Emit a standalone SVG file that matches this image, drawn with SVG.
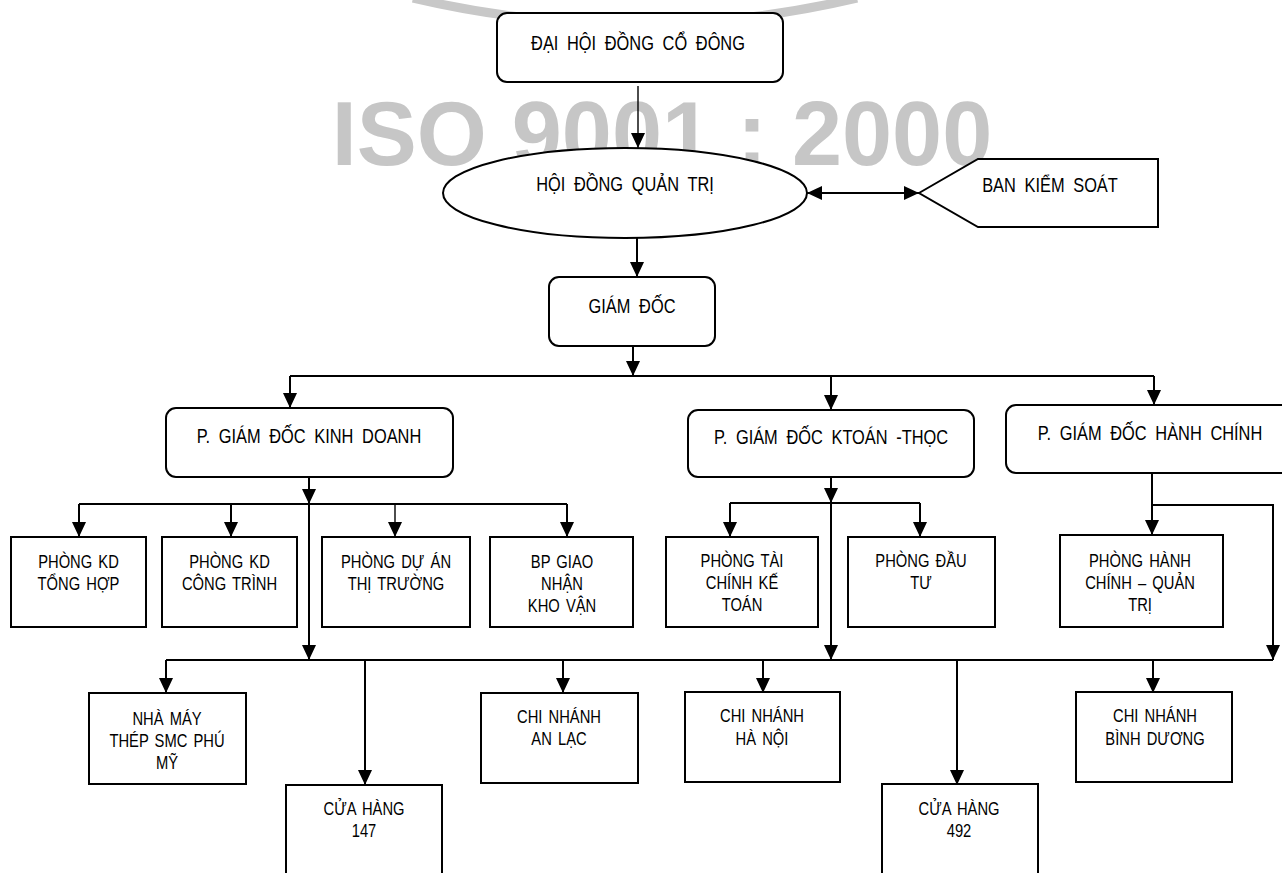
<svg xmlns="http://www.w3.org/2000/svg" width="1282" height="873" viewBox="0 0 1282 873">
<defs>
<style>
.bx{fill:#fff;stroke:#000;stroke-width:2}
.t{font-family:'Liberation Sans',Arial,sans-serif;font-size:20px;fill:#000;text-anchor:middle;word-spacing:5px}
.s{font-family:'Liberation Sans',Arial,sans-serif;font-size:18px;fill:#000;text-anchor:middle;word-spacing:2.5px}
.c line,.c polyline{stroke:#000;stroke-width:2;fill:none}
.c .thin{stroke-width:1.4}
</style>
<marker id="ah" viewBox="0 0 15 14" refX="15" refY="7" markerWidth="15" markerHeight="14" markerUnits="userSpaceOnUse" orient="auto-start-reverse">
<path d="M0,0 L15,7 L0,14 Z" fill="#000"/>
</marker>
</defs>
<rect width="1282" height="873" fill="#fff"/>
<g id="watermark">
<path d="M 413 -2 Q 635 50 857 -2" fill="none" stroke="#c8c8c8" stroke-width="9"/>
<text x="662" y="165" font-family="'Liberation Sans',Arial,sans-serif" font-weight="bold" font-size="90" fill="#c6c6c6" text-anchor="middle">ISO 9001 : 2000</text>
</g>
<g id="connectors" class="c">
<line class="thin" x1="638" y1="86" x2="638" y2="148" marker-end="url(#ah)"/>
<line x1="807" y1="193" x2="919" y2="193" marker-start="url(#ah)" marker-end="url(#ah)"/>
<line x1="637" y1="238" x2="637" y2="277" marker-end="url(#ah)"/>
<line x1="633" y1="346" x2="633" y2="376" marker-end="url(#ah)"/>
<line x1="290" y1="376" x2="1154" y2="376"/>
<line x1="290" y1="376" x2="290" y2="408" marker-end="url(#ah)"/>
<line x1="831" y1="376" x2="831" y2="410" marker-end="url(#ah)"/>
<line x1="1154" y1="376" x2="1154" y2="405" marker-end="url(#ah)"/>
<line x1="309" y1="477" x2="309" y2="504" marker-end="url(#ah)"/>
<line x1="79" y1="504" x2="567" y2="504"/>
<line x1="309" y1="504" x2="309" y2="660" marker-end="url(#ah)"/>
<line x1="79" y1="504" x2="79" y2="537" marker-end="url(#ah)"/>
<line x1="231" y1="504" x2="231" y2="537" marker-end="url(#ah)"/>
<line class="thin" x1="395" y1="504" x2="395" y2="537" marker-end="url(#ah)"/>
<line x1="567" y1="504" x2="567" y2="537" marker-end="url(#ah)"/>
<line x1="831" y1="477" x2="831" y2="503" marker-end="url(#ah)"/>
<line x1="730" y1="503" x2="920" y2="503"/>
<line x1="831" y1="503" x2="831" y2="660" marker-end="url(#ah)"/>
<line x1="730" y1="503" x2="730" y2="537" marker-end="url(#ah)"/>
<line x1="920" y1="503" x2="920" y2="537" marker-end="url(#ah)"/>
<line x1="1152" y1="473" x2="1152" y2="535" marker-end="url(#ah)"/>
<polyline points="1152,505 1273,505 1273,660" marker-end="url(#ah)"/>
<line x1="166" y1="660" x2="1273" y2="660"/>
<line x1="166" y1="660" x2="166" y2="693" marker-end="url(#ah)"/>
<line x1="365" y1="660" x2="365" y2="785" marker-end="url(#ah)"/>
<line x1="563" y1="660" x2="563" y2="693" marker-end="url(#ah)"/>
<line x1="763" y1="660" x2="763" y2="693" marker-end="url(#ah)"/>
<line x1="957" y1="660" x2="957" y2="785" marker-end="url(#ah)"/>
<line x1="1153" y1="660" x2="1153" y2="693" marker-end="url(#ah)"/>
</g>
<g id="dhdcd"><rect class="bx" x="497" y="13" width="286" height="69" rx="10"/><text class="t" transform="matrix(0.82,0,0,1,638,0)" x="0" y="50">ĐẠI HỘI ĐỒNG CỔ ĐÔNG</text></g>
<g id="hdqt"><ellipse class="bx" cx="625" cy="193" rx="182" ry="45"/><text class="t" transform="matrix(0.82,0,0,1,625,0)" x="0" y="191">HỘI ĐỒNG QUẢN TRỊ</text></g>
<g id="bks"><polygon class="bx" points="919,193 978,159 1158,159 1158,227 978,227"/><text class="t" transform="matrix(0.82,0,0,1,1050,0)" x="0" y="192">BAN KIỂM SOÁT</text></g>
<g id="giamdoc"><rect class="bx" x="549" y="277" width="166" height="69" rx="10"/><text class="t" transform="matrix(0.82,0,0,1,632,0)" x="0" y="313">GIÁM ĐỐC</text></g>
<g id="pgd-kd"><rect class="bx" x="166" y="408" width="287" height="69" rx="10"/><text class="t" transform="matrix(0.82,0,0,1,309,0)" x="0" y="443">P. GIÁM ĐỐC KINH DOANH</text></g>
<g id="pgd-kt"><rect class="bx" x="688" y="410" width="286" height="67" rx="10"/><text class="t" transform="matrix(0.82,0,0,1,831,0)" x="0" y="444">P. GIÁM ĐỐC KTOÁN -THỌC</text></g>
<g id="pgd-hc"><rect class="bx" x="1006" y="405" width="290" height="68" rx="10"/><text class="t" transform="matrix(0.82,0,0,1,1150,0)" x="0" y="440">P. GIÁM ĐỐC HÀNH CHÍNH</text></g>
<g id="kd-th"><rect class="bx" x="11" y="537" width="135" height="90"/><text class="s" transform="matrix(0.82,0,0,1,78.5,0)" x="0" y="568">PHÒNG KD</text><text class="s" transform="matrix(0.82,0,0,1,78.5,0)" x="0" y="590">TỔNG HỢP</text></g>
<g id="kd-ct"><rect class="bx" x="162" y="537" width="135" height="90"/><text class="s" transform="matrix(0.82,0,0,1,229.5,0)" x="0" y="568">PHÒNG KD</text><text class="s" transform="matrix(0.82,0,0,1,229.5,0)" x="0" y="590">CÔNG TRÌNH</text></g>
<g id="duan"><rect class="bx" x="322" y="537" width="148" height="90"/><text class="s" transform="matrix(0.82,0,0,1,396,0)" x="0" y="568">PHÒNG DỰ ÁN</text><text class="s" transform="matrix(0.82,0,0,1,396,0)" x="0" y="590">THỊ TRƯỜNG</text></g>
<g id="bp-giao"><rect class="bx" x="490" y="537" width="143" height="90"/><text class="s" transform="matrix(0.82,0,0,1,562,0)" x="0" y="568">BP GIAO</text><text class="s" transform="matrix(0.82,0,0,1,562,0)" x="0" y="590">NHẬN</text><text class="s" transform="matrix(0.82,0,0,1,562,0)" x="0" y="612">KHO VẬN</text></g>
<g id="taichinh"><rect class="bx" x="666" y="537" width="152" height="90"/><text class="s" transform="matrix(0.82,0,0,1,742,0)" x="0" y="567">PHÒNG TÀI</text><text class="s" transform="matrix(0.82,0,0,1,742,0)" x="0" y="589">CHÍNH KẾ</text><text class="s" transform="matrix(0.82,0,0,1,742,0)" x="0" y="611">TOÁN</text></g>
<g id="dautu"><rect class="bx" x="848" y="537" width="147" height="90"/><text class="s" transform="matrix(0.82,0,0,1,921,0)" x="0" y="567">PHÒNG ĐẦU</text><text class="s" transform="matrix(0.82,0,0,1,921,0)" x="0" y="589">TƯ</text></g>
<g id="hanhchinh"><rect class="bx" x="1060" y="535" width="163" height="92"/><text class="s" transform="matrix(0.82,0,0,1,1140,0)" x="0" y="567">PHÒNG HÀNH</text><text class="s" transform="matrix(0.82,0,0,1,1140,0)" x="0" y="589">CHÍNH – QUẢN</text><text class="s" transform="matrix(0.82,0,0,1,1140,0)" x="0" y="611">TRỊ</text></g>
<g id="nhamay"><rect class="bx" x="89" y="693" width="157" height="91"/><text class="s" transform="matrix(0.82,0,0,1,167,0)" x="0" y="725">NHÀ MÁY</text><text class="s" transform="matrix(0.82,0,0,1,167,0)" x="0" y="747">THÉP SMC PHÚ</text><text class="s" transform="matrix(0.82,0,0,1,167,0)" x="0" y="769">MỸ</text></g>
<g id="ch147"><rect class="bx" x="286" y="785" width="156" height="100"/><text class="s" transform="matrix(0.82,0,0,1,364,0)" x="0" y="815">CỬA HÀNG</text><text class="s" transform="matrix(0.82,0,0,1,364,0)" x="0" y="837">147</text></g>
<g id="cn-anlac"><rect class="bx" x="481" y="693" width="157" height="90"/><text class="s" transform="matrix(0.82,0,0,1,559,0)" x="0" y="723">CHI NHÁNH</text><text class="s" transform="matrix(0.82,0,0,1,559,0)" x="0" y="745">AN LẠC</text></g>
<g id="cn-hanoi"><rect class="bx" x="685" y="692" width="155" height="90"/><text class="s" transform="matrix(0.82,0,0,1,762,0)" x="0" y="722">CHI NHÁNH</text><text class="s" transform="matrix(0.82,0,0,1,762,0)" x="0" y="745">HÀ NỘI</text></g>
<g id="ch492"><rect class="bx" x="882" y="784" width="156" height="100"/><text class="s" transform="matrix(0.82,0,0,1,959,0)" x="0" y="815">CỬA HÀNG</text><text class="s" transform="matrix(0.82,0,0,1,959,0)" x="0" y="837">492</text></g>
<g id="cn-binhduong"><rect class="bx" x="1076" y="692" width="156" height="90"/><text class="s" transform="matrix(0.82,0,0,1,1155,0)" x="0" y="722">CHI NHÁNH</text><text class="s" transform="matrix(0.82,0,0,1,1155,0)" x="0" y="745">BÌNH DƯƠNG</text></g>
</svg>
